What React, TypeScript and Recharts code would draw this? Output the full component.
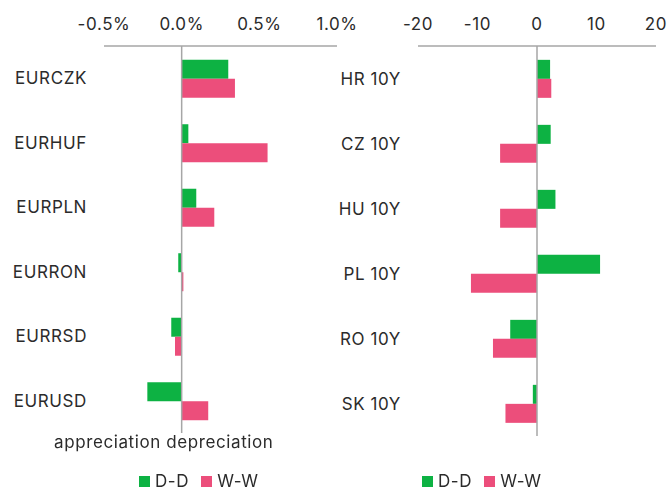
import { BarChart, Bar, XAxis, YAxis, ReferenceLine, Legend } from 'recharts';

// FX moves (%) and 10Y yield moves (bp), day-on-day vs week-on-week
const fxPairs = ['EURCZK', 'EURHUF', 'EURPLN', 'EURRON', 'EURRSD', 'EURUSD'];
const fxDD = [0.3, 0.043, 0.094, -0.022, -0.067, -0.221];
const fxWW = [0.343, 0.553, 0.21, 0.011, -0.043, 0.171];
const fxTicks = [-0.5, 0, 0.5, 1.0];

const bonds = ['HR 10Y', 'CZ 10Y', 'HU 10Y', 'PL 10Y', 'RO 10Y', 'SK 10Y'];
const bondDD = [2.2, 2.3, 3.1, 10.6, -4.5, -0.7];
const bondWW = [2.4, -6.2, -6.2, -11.1, -7.4, -5.3];
const bondTicks = [-20, -10, 0, 10, 20];

const GREEN = '#0db243';
const PINK = '#ec4e7b';
const AXIS = '#a6a6a6';
const TEXT = '#2b2b2b';
const FONT = 'Inter, "Noto Sans", sans-serif';
const SPACING = '0.6px';

const fxData = fxPairs.map((name, i) => ({ name, dd: fxDD[i], ww: fxWW[i] }));
const bondData = bonds.map((name, i) => ({ name, dd: bondDD[i], ww: bondWW[i] }));

const tickStyle = { fill: TEXT, fontSize: 17, fontFamily: FONT, style: { letterSpacing: SPACING } };

function LegendBox() {
  const item = (color: string, label: string, gap: number) => (
    <span style={{ display: 'inline-flex', alignItems: 'center', marginRight: gap }}>
      <span style={{ width: 11, height: 11, background: color, marginRight: 5 }} />
      <span>{label}</span>
    </span>
  );
  return (
    <div style={{ display: 'flex', fontSize: 17, fontFamily: FONT, color: TEXT, lineHeight: '20px', letterSpacing: SPACING }}>
      {item(GREEN, 'D-D', 12)}
      {item(PINK, 'W-W', 0)}
    </div>
  );
}

function Panel({ data, width, yWidth, right, bottom, domain, ticks, fmt, legendLeft }: {
  data: Array<{ name: string; dd: number; ww: number }>;
  width: number; yWidth: number; right: number; bottom: number;
  domain: [number, number]; ticks: number[]; fmt: (v: number) => string; legendLeft: number;
}) {
  return (
    <BarChart width={width} height={490} data={data} layout="vertical"
              margin={{ top: 16, right, bottom, left: 0 }} barCategoryGap="21.3%" barGap={0}>
      <XAxis type="number" orientation="top" domain={domain} ticks={ticks} interval={0}
             tickFormatter={(v) => fmt(Number(v))} axisLine={{ stroke: AXIS, strokeWidth: 1.5 }}
             tickLine={false} tickSize={0} tickMargin={16} height={30} tick={tickStyle} />
      <YAxis type="category" dataKey="name" width={yWidth} axisLine={false} tickLine={false}
             tickSize={0} tickMargin={17} tick={tickStyle} />
      <ReferenceLine x={0} stroke={AXIS} strokeWidth={1.5} />
      <Bar dataKey="dd" name="D-D" fill={GREEN} isAnimationActive={false} />
      <Bar dataKey="ww" name="W-W" fill={PINK} isAnimationActive={false} />
      <Legend layout="horizontal" verticalAlign="middle" align="center" content={() => <LegendBox />}
              wrapperStyle={{ position: 'absolute', left: legendLeft, top: 471, width: 'auto' }} />
    </BarChart>
  );
}

export default function App() {
  return (
    <div style={{ position: 'fixed', left: 0, top: 0, width: 672, height: 490, background: '#fff', fontFamily: FONT }}>
      <div style={{ position: 'absolute', left: 0, top: 0 }}>
        <Panel data={fxData} width={370} yWidth={104} right={33} bottom={57}
               domain={[-0.5, 1]} ticks={fxTicks} fmt={(v) => v.toFixed(1) + '%'} legendLeft={139} />
      </div>
      <div style={{ position: 'absolute', left: 54, top: 432, fontSize: 17, color: TEXT, lineHeight: '20px', whiteSpace: 'nowrap', letterSpacing: SPACING }}>
        appreciation depreciation
      </div>
      <div style={{ position: 'absolute', left: 320, top: 0 }}>
        <Panel data={bondData} width={352} yWidth={98} right={16} bottom={54}
               domain={[-20, 20]} ticks={bondTicks} fmt={(v) => String(v)} legendLeft={102} />
      </div>
    </div>
  );
}
